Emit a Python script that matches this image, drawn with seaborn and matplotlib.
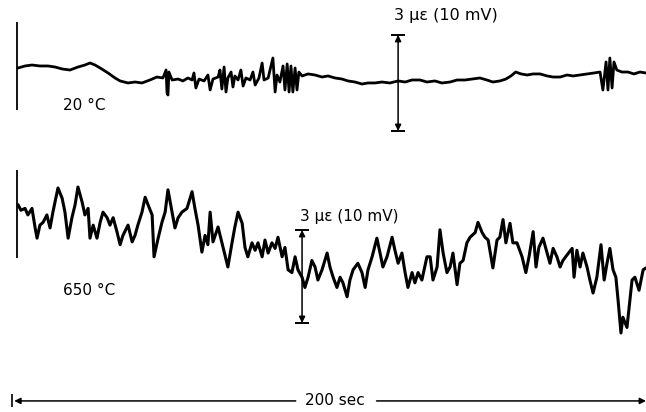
import numpy as np
import pandas as pd
import matplotlib
matplotlib.use("Agg")
import matplotlib.pyplot as plt
import seaborn as sns

# ---- strain gauge output ----
# time in seconds (200 sec full width), signal in mV (10 mV = 3 microstrain)

# 20 C trace
t_20 = [1.9, 4.1, 6.3, 8.8, 11.4, 13.6, 15.8, 18.3, 20.8, 23.0, 24.6, 26.2, 27.8,
        30.3, 32.5, 34.1, 36.6, 38.8, 41.0, 43.5, 45.7, 47.6, 48.6, 48.9, 49.2,
        49.5, 50.5, 52.4, 53.9, 55.5, 56.8, 57.4, 58.0, 59.0, 60.6, 61.8, 62.5,
        63.4, 65.0, 65.6, 66.2, 66.9, 67.5, 68.1, 69.1, 69.7, 70.3, 71.3, 72.2,
        72.9, 73.8, 75.1, 76.0, 76.7, 77.9, 78.9, 79.5, 80.8, 81.7, 82.3, 83.0,
        83.6, 84.5, 85.5, 86.1, 86.8, 87.4, 88.0, 88.6, 89.3, 89.9, 90.5, 91.5,
        93.4, 95.6, 97.8, 99.7, 101.9, 104.1, 106.0, 108.2, 110.4, 112.3, 114.5,
        116.7, 119.2, 121.8, 124.0, 126.2, 128.7, 130.9, 133.4, 135.6, 138.2,
        140.4, 142.9, 145.1, 147.6, 149.8, 151.7, 153.9, 155.8, 157.4, 158.9,
        160.6, 162.5, 164.4, 166.6, 168.8, 170.7, 172.9, 175.1, 177.0, 179.2,
        181.4, 183.6, 185.5, 186.4, 187.4, 188.0, 188.6, 189.3, 189.9, 190.8,
        192.4, 194.3, 196.2, 198.1, 200.0]
mv_20 = [1.25, 1.46, 1.56, 1.46, 1.46, 1.35, 1.15, 1.04, 1.35, 1.56, 1.77, 1.56, 1.25,
         0.73, 0.21, -0.10, -0.31, -0.21, -0.31, 0.0, 0.31, 0.21, 1.04, -1.35, -1.56,
         0.83, 0.0, 0.10, -0.10, 0.21, 0.0, 0.73, -0.83, 0.10, -0.10, 0.52, -1.04,
         0.10, 0.31, 1.04, -0.94, 1.35, -1.25, 0.21, 0.83, -0.73, 0.42, 0.0, 1.04,
         -0.63, 0.21, 0.0, 0.83, -0.52, 0.21, 1.77, 0.0, 0.21, 1.46, 2.29, -1.25,
         0.52, -0.21, 1.46, -1.04, 1.67, -1.25, 1.46, -1.25, 1.25, -1.04, 0.83, 0.42,
         0.63, 0.52, 0.31, 0.42, 0.21, 0.10, -0.10, -0.21, -0.42, -0.31, -0.31,
         -0.21, -0.31, -0.10, -0.21, 0.0, 0.0, -0.21, -0.10, -0.31, -0.21,
         0.0, 0.0, 0.10, 0.21, 0.0, -0.21, -0.10, 0.10, 0.42, 0.83,
         0.63, 0.52, 0.63, 0.63, 0.42, 0.31, 0.31, 0.52, 0.42, 0.52,
         0.63, 0.73, 0.83, -1.04, 1.88, -1.04, 2.29, -0.83, 1.88, 1.04,
         0.83, 0.83, 0.63, 0.83, 0.73]

# 650 C trace
t_650 = [1.9, 2.8, 4.1, 5.0, 6.3, 7.3, 7.9, 8.8, 9.8, 11.0, 12.0, 12.9, 14.5, 15.8,
         16.7, 17.7, 18.9, 19.9, 20.8, 22.1, 23.0, 24.0, 24.6, 25.6, 26.8, 27.8,
         28.7, 30.0, 30.9, 31.9, 33.1, 34.1, 35.0, 36.6, 37.9, 38.8, 39.7, 41.0,
         42.0, 42.9, 44.2, 44.8, 46.1, 47.3, 48.3, 49.2, 50.5, 51.4, 52.4, 53.6,
         55.2, 56.8, 57.7, 58.7, 59.9, 60.9, 61.8, 62.5, 63.4, 65.0, 66.6, 68.1,
         69.4, 70.3, 71.3, 72.6, 73.5, 74.4, 75.7, 76.7, 77.6, 78.9, 79.8, 80.8,
         82.0, 83.0, 83.9, 85.2, 86.1, 87.1, 88.3, 89.3, 90.2, 91.5, 92.4, 93.4,
         94.6, 95.6, 96.5, 97.8, 99.4, 100.3, 101.3, 102.5, 103.5, 104.4, 105.7,
         106.6, 107.6, 109.1, 110.4, 111.4, 112.3, 113.6, 115.1, 116.1, 117.0,
         118.3, 119.9, 120.8, 121.8, 123.0, 124.0, 124.9, 126.2, 127.1, 128.1,
         129.3, 130.9, 131.9, 132.8, 134.1, 135.0, 136.0, 137.2, 138.2, 139.1,
         140.4, 141.3, 142.3, 143.5, 144.5, 146.1, 147.0, 148.3, 149.2, 150.2,
         151.7, 153.0, 153.9, 154.9, 155.8, 157.1, 158.0, 159.3, 160.9, 162.1,
         163.1, 164.4, 165.3, 166.2, 167.5, 168.8, 169.7, 170.7, 171.9, 172.9,
         173.8, 175.1, 176.7, 177.3, 178.2, 179.2, 180.1, 181.4, 182.3, 183.3,
         184.5, 185.8, 186.8, 187.7, 188.6, 189.6, 190.5, 191.2, 192.1, 192.7,
         194.0, 194.6, 195.6, 196.5, 197.8, 199.1, 200.0]
mv_650 = [3.8, 3.2, 3.4, 2.7, 3.4, 1.3, 0.2, 1.6, 1.9, 2.7, 1.3, 3.0, 5.6, 4.5,
          3.0, 0.2, 2.4, 3.8, 5.7, 4.1, 2.7, 3.4, 0.2, 1.6, 0.2, 1.9,
          3.0, 2.4, 1.6, 2.4, 0.9, -0.5, 0.5, 1.6, -0.2, 0.5, 1.6, 3.0,
          4.6, 3.8, 2.7, -1.8, 0.2, 1.9, 3.0, 5.4, 3.0, 1.3, 2.4, 3.0,
          3.4, 5.2, 3.4, 1.6, -1.3, 0.5, -0.5, 3.0, -0.2, 1.4, -0.8, -2.9,
          -0.3, 1.4, 3.0, 1.8, -0.8, -1.8, -0.3, -1.1, -0.3, -1.8, 0.0, -1.4,
          -0.3, -0.9, 0.3, -1.8, -0.8, -3.2, -3.5, -1.8, -3.2, -4.0, -5.1, -4.0,
          -2.2, -2.9, -4.3, -3.2, -1.4, -2.9, -4.0, -5.1, -4.0, -4.6, -6.1,
          -4.3, -3.2, -2.5, -3.5, -5.1, -3.2, -1.8, 0.2, -1.4, -2.9,
          -1.8, 0.3, -1.1, -2.5, -1.4, -3.5, -5.1, -3.5, -4.6, -3.5,
          -4.3, -1.8, -1.8, -4.3, -2.9, 1.1, -1.4, -3.5, -2.9, -1.4,
          -4.8, -2.5, -2.2, -0.3, 0.3, 0.8, 1.9, 0.8, 0.3, 0.0,
          -3.0, 0.0, 0.3, 2.2, -0.3, 1.8, -0.3, -0.3, -1.8, -3.5,
          -1.8, 0.9, -2.9, -0.8, 0.2, -1.4, -2.5, -0.9, -1.8, -2.9,
          -2.2, -1.6, -0.9, -4.0, -1.1, -2.9, -1.4, -2.9, -4.3, -5.7,
          -4.0, -0.5, -4.3, -2.5, -0.9, -3.2, -4.0, -6.5, -10.0, -8.3,
          -9.4, -7.5, -4.3, -4.0, -5.4, -3.2, -3.0]

labels = ["20 \u00b0C", "650 \u00b0C"]
scale_label = "3 \u03bc\u03b5 (10 mV)"
scale_mv = 10
time_label = "200 sec"
span_sec = 200

df = pd.concat([
    pd.DataFrame({"t": t_20, "mv": mv_20, "temp": labels[0]}),
    pd.DataFrame({"t": t_650, "mv": mv_650, "temp": labels[1]}),
])

sns.set_theme(style="white")
plt.rcParams["font.family"] = ["DejaVu Sans"]
plt.rcParams["text.color"] = "black"

fig = plt.figure(figsize=(6.46, 4.12), dpi=100)
ax1 = fig.add_axes([0, 262 / 412, 1, 150 / 412])
ax2 = fig.add_axes([0, 0, 1, 262 / 412])

for ax in (ax1, ax2):
    ax.set_xlim(-3.79, span_sec)
    ax.set_axis_off()
ax1.set_ylim(-7.29, 8.33)
ax2.set_ylim(-18.49, 9.68)

sns.lineplot(data=df[df.temp == labels[0]], x="t", y="mv", ax=ax1,
             color="black", linewidth=2.0, estimator=None, sort=False)
sns.lineplot(data=df[df.temp == labels[1]], x="t", y="mv", ax=ax2,
             color="black", linewidth=2.2, estimator=None, sort=False)

# start marks on the chart
ax1.vlines(1.6, -3.13, 6.04, color="black", lw=1.3)
ax2.vlines(1.6, -1.94, 7.53, color="black", lw=1.3)


def scale_bar(ax, t, low, text_t, text_v, fs):
    high = low + scale_mv
    ax.annotate("", xy=(t, high), xytext=(t, low),
                arrowprops=dict(arrowstyle="<|-|>", color="black", lw=1.1,
                                mutation_scale=9, shrinkA=0, shrinkB=0))
    ax.hlines([low, high], t - 2.2, t + 2.2, color="black", lw=1.4)
    ax.text(text_t, text_v, scale_label, fontsize=fs, ha="left", va="center",
            color="black")


scale_bar(ax1, 121.8, -5.31, 120.6, 6.7, 11.5)
scale_bar(ax2, 91.5, -8.92, 91.0, 2.5, 11)

ax1.text(16.1, -2.7, labels[0], fontsize=11, ha="left", va="center", color="black")
ax2.text(16.1, -5.4, labels[1], fontsize=11, ha="left", va="center", color="black")

# time span arrow
yv = -17.3
ax2.annotate("", xy=(0.7, yv), xytext=(89.5, yv),
             arrowprops=dict(arrowstyle="-|>", color="black", lw=1.1,
                             mutation_scale=9, shrinkA=0, shrinkB=0))
ax2.annotate("", xy=(span_sec, yv), xytext=(115.0, yv),
             arrowprops=dict(arrowstyle="-|>", color="black", lw=1.1,
                             mutation_scale=9, shrinkA=0, shrinkB=0))
ax2.vlines(0.0, yv - 0.7, yv + 0.7, color="black", lw=1.2)
ax2.text(102.0, yv, time_label, fontsize=11, ha="center", va="center",
         color="black")

fig.savefig("out.png", dpi=100)
